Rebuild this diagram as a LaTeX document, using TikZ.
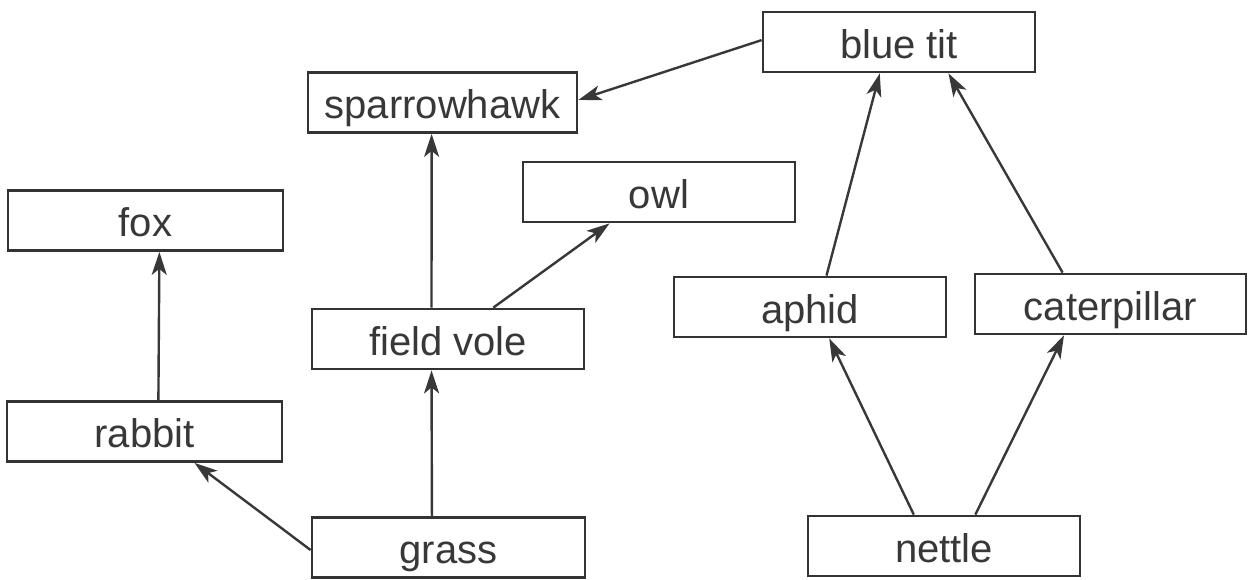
\documentclass[tikz,border=0pt]{standalone}
\usepackage{fontspec}
\setmainfont{Liberation Sans}
\usetikzlibrary{arrows.meta,calc}
\begin{document}
\begin{tikzpicture}[x=1pt,y=-1pt,
  box/.style={draw=black!80, line width=2.8pt, fill=white, minimum width=272pt, minimum height=60pt,
    inner sep=0pt, text height=36pt, text depth=4pt, font=\fontsize{40}{48}\selectfont, text=black!78},
  link/.style={draw=black!78, line width=2.4pt, -{Stealth[length=23pt,width=15pt,inset=6pt]}}]
\useasboundingbox (0,0) rectangle (1250,579);
\fill[white] (0,0) rectangle (1250,579);
% nodes
\node[box] (bt) at (899,42) {blue tit};
\node[box, minimum width=269pt] (sh) at (442.5,102.5) {sparrowhawk};
\node[box] (owl) at (659,192) {owl};
\node[box, minimum width=275pt] (fox) at (145.5,220.5) {fox};
\node[box] (aph) at (810,307) {aphid};
\node[box, minimum width=271pt] (cat) at (1110.5,304) {caterpillar};
\node[box] (fv) at (448,339) {field vole};
\node[box, minimum width=275pt] (rab) at (144.5,431.5) {rabbit};
\node[box, minimum width=273pt] (gr) at (448.5,547.5) {grass};
\node[box] (net) at (944,546) {nettle};
% connectors
\draw[link] ($(bt.north west)!0.47!(bt.south west)$) -- ($(sh.north east)!0.46!(sh.south east)$);
\draw[link] ($(fv.north west)!0.44!(fv.north east)$) -- ($(sh.south west)!0.46!(sh.south east)$);
\draw[link] ($(fv.north west)!0.665!(fv.north east)$) -- ($(owl.south west)!0.32!(owl.south east)$);
\draw[link] ($(rab.north west)!0.55!(rab.north east)$) -- ($(fox.south west)!0.55!(fox.south east)$);
\draw[link] ($(gr.north west)!0.54!(gr.south west)$) -- ($(rab.south west)!0.68!(rab.south east)$);
\draw[link] ($(gr.north west)!0.44!(gr.north east)$) -- ($(fv.south west)!0.44!(fv.south east)$);
\draw[link] ($(aph.north west)!0.56!(aph.north east)$) -- ($(bt.south west)!0.43!(bt.south east)$);
\draw[link] ($(cat.north west)!0.325!(cat.north east)$) -- ($(bt.south west)!0.68!(bt.south east)$);
\draw[link] ($(net.north west)!0.39!(net.north east)$) -- ($(aph.south west)!0.57!(aph.south east)$);
\draw[link] ($(net.north west)!0.614!(net.north east)$) -- ($(cat.south west)!0.33!(cat.south east)$);
\end{tikzpicture}
\end{document}
